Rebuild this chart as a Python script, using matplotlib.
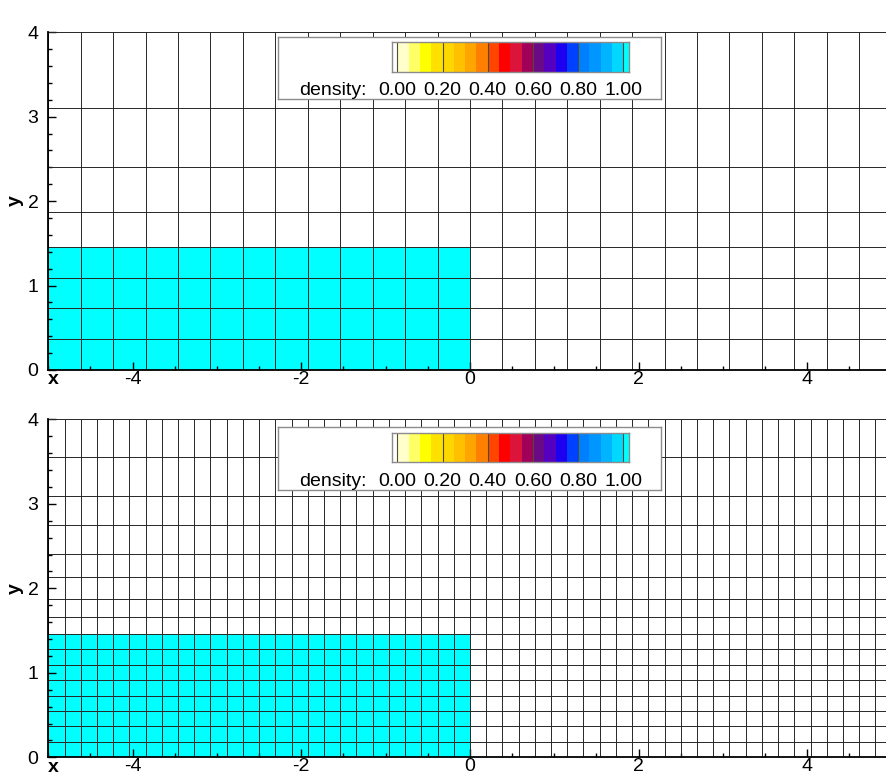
import numpy as np
import matplotlib
matplotlib.use("Agg")
import matplotlib.pyplot as plt
from matplotlib.colors import ListedColormap, BoundaryNorm
from matplotlib.ticker import MultipleLocator

plt.rcParams['font.family'] = ['Liberation Sans', 'DejaVu Sans']
plt.rcParams['axes.unicode_minus'] = False

W, H = 887, 777
DPI = 100

# ---- mesh definitions (coarse and refined) ----
x_edges_coarse = np.linspace(-5.0, 5.0, 27)
y_edges_coarse = [0.0, 0.365, 0.73, 1.095, 1.46, 1.87, 2.405, 3.098, 4.0]

x_edges_fine = np.linspace(-5.0, 5.0, 53)
y_edges_fine = [0.0, 0.1825, 0.365, 0.5475, 0.73, 0.9125, 1.095, 1.2775, 1.46,
                1.665, 1.87, 2.1375, 2.405, 2.7515, 3.098, 3.549, 4.0]

# ---- initial water column ----
water_x = (-5.0, 0.0)
water_height = 1.46
water_density = 1.0
air_density = 0.0

# ---- contour levels and colours ----
levels = np.round(np.arange(0.0, 1.0001, 0.05), 2)
level_colors = ['#ffffcc', '#ffff66', '#ffff00', '#ffe100', '#ffd700',
                '#ffc000', '#ffa500', '#ff8000', '#ff4500', '#ff0000',
                '#dc143c', '#a0005a', '#6a0a86', '#5500c0', '#1e00f0',
                '#0040ff', '#0080ff', '#0096ff', '#00b4ff', '#00d8ff']
under_color = '#ffffff'
over_color = '#00ffff'
label_levels = [0.0, 0.2, 0.4, 0.6, 0.8, 1.0]
label_texts = ['0.00', '0.20', '0.40', '0.60', '0.80', '1.00']

x_major = [-4, -2, 0, 2, 4]
y_major = [0, 1, 2, 3, 4]

cmap = ListedColormap(level_colors)
cmap.set_under(under_color)
cmap.set_over(over_color)
norm = BoundaryNorm(levels, cmap.N)

FS = 14

fig = plt.figure(figsize=(W / DPI, H / DPI), dpi=DPI)


def px_axes(left, top, right, bottom, **kw):
    return fig.add_axes([left / W, 1 - bottom / H, (right - left) / W,
                         (bottom - top) / H], **kw)


def density_field(xe, ye):
    xe = np.asarray(xe)
    ye = np.asarray(ye)
    xc = 0.5 * (xe[1:] + xe[:-1])
    yc = 0.5 * (ye[1:] + ye[:-1])
    X, Y = np.meshgrid(xc, yc)
    rho = np.where((X > water_x[0]) & (X < water_x[1]) & (Y < water_height),
                   water_density, air_density)
    return np.ma.masked_less_equal(rho, 0.0)


def draw_panel(top_px, bottom_px, xe, ye):
    ax = px_axes(48.3, top_px, 891.6, bottom_px)
    ax.set_xlim(-5, 5)
    ax.set_ylim(0, 4)
    ax.set_facecolor('white')
    ax.pcolormesh(xe, ye, density_field(xe, ye), cmap=cmap, norm=norm,
                  shading='flat', zorder=1)
    ax.vlines(xe, 0, 4, colors='#262626', linewidth=0.7, zorder=2)
    ax.hlines(ye, -5, 5, colors='#262626', linewidth=0.7, zorder=2)
    for s in ('top', 'right'):
        ax.spines[s].set_visible(False)
    for s in ('left', 'bottom'):
        ax.spines[s].set_linewidth(1.3)
        ax.spines[s].set_zorder(5)
    ax.set_xticks(x_major)
    ax.set_yticks(y_major)
    ax.set_xticklabels([str(v) for v in x_major])
    ax.set_yticklabels([str(v) for v in y_major])
    ax.xaxis.set_minor_locator(MultipleLocator(0.5))
    ax.yaxis.set_minor_locator(MultipleLocator(0.2))
    ax.tick_params(which='both', direction='in', top=False, right=False,
                   width=1.0, color='black')
    ax.tick_params(which='major', length=5.8, labelsize=FS)
    ax.tick_params(which='minor', length=2.9)
    ax.tick_params(axis='x', which='major', pad=0.5)
    ax.tick_params(axis='y', which='major', pad=7.0)
    fig.text(53.3 / W, 1 - (bottom_px + 10) / H, 'x', fontsize=FS,
             fontweight='bold', ha='center', va='center')
    fig.text(15.5 / W, 1 - (bottom_px - 169) / H, 'y', fontsize=FS,
             fontweight='bold', ha='center', va='center', rotation=90)
    return ax


def draw_legend(box_top):
    box = px_axes(278.3, box_top, 661.0, box_top + 62.3)
    box.set_xticks([])
    box.set_yticks([])
    box.set_facecolor('white')
    for s in box.spines.values():
        s.set_edgecolor('#8c8c8c')
        s.set_linewidth(1.0)

    cax = px_axes(391.7, box_top + 5.6, 629.0, box_top + 35.0)
    cax.set_xlim(levels[0] - 0.025, levels[-1] + 0.025)
    cax.set_ylim(0, 1)
    cax.bar(levels[:-1], 1.0, width=0.05, align='edge', color=level_colors,
            linewidth=0)
    cax.bar([levels[0] - 0.025], 1.0, width=0.025, align='edge',
            color=under_color, linewidth=0)
    cax.bar([levels[-1]], 1.0, width=0.025, align='edge',
            color=over_color, linewidth=0)
    for v in label_levels:
        cax.axvline(v, color='#4d4d33', linewidth=0.8)
    cax.set_xticks([])
    cax.set_yticks([])
    for s in cax.spines.values():
        s.set_edgecolor('#8c8c8c')
        s.set_linewidth(1.0)

    base_y = 1 - (box_top + 58.3) / H
    trans = cax.get_xaxis_transform()
    # baseline of the level labels, in colour-bar axes fraction
    yb = -(58.3 - 35.0) / 29.4
    for v, t in zip(label_levels, label_texts):
        cax.text(v, yb, t, transform=trans, ha='center', va='baseline',
                 fontsize=FS, clip_on=False)
    fig.text(299.3 / W, base_y, 'density:', ha='left', va='baseline',
             fontsize=FS)


draw_panel(32.3, 370.0, x_edges_coarse, y_edges_coarse)
draw_legend(36.7)
draw_panel(419.3, 757.3, x_edges_fine, y_edges_fine)
draw_legend(427.3)

fig.savefig('out.png', dpi=DPI)
